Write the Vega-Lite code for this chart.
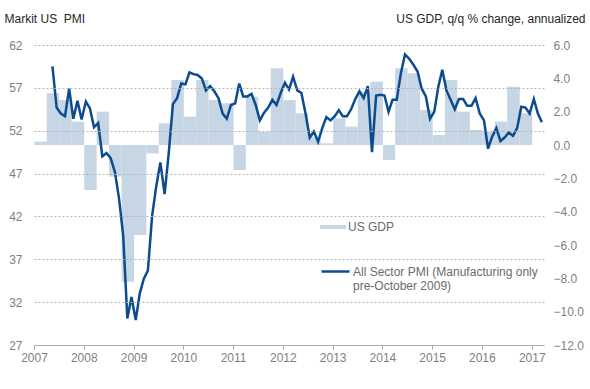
{
  "$schema": "https://vega.github.io/schema/vega-lite/v6.json",
  "width": 510,
  "height": 300,
  "autosize": {"type": "none"},
  "padding": {"left": 34, "top": 45, "right": 46, "bottom": 44},
  "background": "white",
  "config": {
    "view": {"stroke": null},
    "font": "Liberation Sans",
    "axis": {"labelFont": "Liberation Sans", "titleFont": "Liberation Sans"},
    "legend": {"padding": 0, "labelFont": "Liberation Sans"}
  },
  "datasets": {
    "gdp": [
      {"quarter": "2007-01-01", "gdp": 0.2}, {"quarter": "2007-04-01", "gdp": 3.1}, {"quarter": "2007-07-01", "gdp": 2.7}, {"quarter": "2007-10-01", "gdp": 1.4},
      {"quarter": "2008-01-01", "gdp": -2.7}, {"quarter": "2008-04-01", "gdp": 2.0}, {"quarter": "2008-07-01", "gdp": -1.9}, {"quarter": "2008-10-01", "gdp": -8.2},
      {"quarter": "2009-01-01", "gdp": -5.4}, {"quarter": "2009-04-01", "gdp": -0.5}, {"quarter": "2009-07-01", "gdp": 1.3}, {"quarter": "2009-10-01", "gdp": 3.9},
      {"quarter": "2010-01-01", "gdp": 1.7}, {"quarter": "2010-04-01", "gdp": 3.9}, {"quarter": "2010-07-01", "gdp": 2.7}, {"quarter": "2010-10-01", "gdp": 2.5},
      {"quarter": "2011-01-01", "gdp": -1.5}, {"quarter": "2011-04-01", "gdp": 2.9}, {"quarter": "2011-07-01", "gdp": 0.8}, {"quarter": "2011-10-01", "gdp": 4.6},
      {"quarter": "2012-01-01", "gdp": 2.7}, {"quarter": "2012-04-01", "gdp": 1.9}, {"quarter": "2012-07-01", "gdp": 0.5}, {"quarter": "2012-10-01", "gdp": 0.1},
      {"quarter": "2013-01-01", "gdp": 1.6}, {"quarter": "2013-04-01", "gdp": 1.1}, {"quarter": "2013-07-01", "gdp": 3.2}, {"quarter": "2013-10-01", "gdp": 3.8},
      {"quarter": "2014-01-01", "gdp": -0.9}, {"quarter": "2014-04-01", "gdp": 4.6}, {"quarter": "2014-07-01", "gdp": 4.3}, {"quarter": "2014-10-01", "gdp": 2.1},
      {"quarter": "2015-01-01", "gdp": 0.6}, {"quarter": "2015-04-01", "gdp": 3.9}, {"quarter": "2015-07-01", "gdp": 2.0}, {"quarter": "2015-10-01", "gdp": 0.9},
      {"quarter": "2016-01-01", "gdp": 0.8}, {"quarter": "2016-04-01", "gdp": 1.4}, {"quarter": "2016-07-01", "gdp": 3.5}, {"quarter": "2016-10-01", "gdp": 1.9}
    ],
    "pmi": [
      {"month": "2007-05-01", "pmi": 59.5}, {"month": "2007-06-01", "pmi": 54.7}, {"month": "2007-07-01", "pmi": 54.0}, {"month": "2007-08-01", "pmi": 53.7},
      {"month": "2007-09-01", "pmi": 56.9}, {"month": "2007-10-01", "pmi": 53.4}, {"month": "2007-11-01", "pmi": 55.5}, {"month": "2007-12-01", "pmi": 53.3},
      {"month": "2008-01-01", "pmi": 55.4}, {"month": "2008-02-01", "pmi": 54.6}, {"month": "2008-03-01", "pmi": 52.4}, {"month": "2008-04-01", "pmi": 52.9},
      {"month": "2008-05-01", "pmi": 49.0}, {"month": "2008-06-01", "pmi": 49.4}, {"month": "2008-07-01", "pmi": 48.8}, {"month": "2008-08-01", "pmi": 47.2},
      {"month": "2008-09-01", "pmi": 44.1}, {"month": "2008-10-01", "pmi": 39.8}, {"month": "2008-11-01", "pmi": 30.1}, {"month": "2008-12-01", "pmi": 32.6},
      {"month": "2009-01-01", "pmi": 29.9}, {"month": "2009-02-01", "pmi": 33.0}, {"month": "2009-03-01", "pmi": 34.7}, {"month": "2009-04-01", "pmi": 35.7},
      {"month": "2009-05-01", "pmi": 42.0}, {"month": "2009-06-01", "pmi": 45.5}, {"month": "2009-07-01", "pmi": 48.3}, {"month": "2009-08-01", "pmi": 44.6},
      {"month": "2009-09-01", "pmi": 49.4}, {"month": "2009-10-01", "pmi": 55.1}, {"month": "2009-11-01", "pmi": 55.8}, {"month": "2009-12-01", "pmi": 57.5},
      {"month": "2010-01-01", "pmi": 57.4}, {"month": "2010-02-01", "pmi": 58.8}, {"month": "2010-03-01", "pmi": 58.6}, {"month": "2010-04-01", "pmi": 58.5},
      {"month": "2010-05-01", "pmi": 58.1}, {"month": "2010-06-01", "pmi": 56.7}, {"month": "2010-07-01", "pmi": 57.2}, {"month": "2010-08-01", "pmi": 56.6},
      {"month": "2010-09-01", "pmi": 55.8}, {"month": "2010-10-01", "pmi": 54.0}, {"month": "2010-11-01", "pmi": 53.4}, {"month": "2010-12-01", "pmi": 55.0},
      {"month": "2011-01-01", "pmi": 55.2}, {"month": "2011-02-01", "pmi": 57.5}, {"month": "2011-03-01", "pmi": 56.0}, {"month": "2011-04-01", "pmi": 56.0},
      {"month": "2011-05-01", "pmi": 56.3}, {"month": "2011-06-01", "pmi": 55.0}, {"month": "2011-07-01", "pmi": 53.2}, {"month": "2011-08-01", "pmi": 54.1},
      {"month": "2011-09-01", "pmi": 54.7}, {"month": "2011-10-01", "pmi": 55.6}, {"month": "2011-11-01", "pmi": 55.0}, {"month": "2011-12-01", "pmi": 56.4},
      {"month": "2012-01-01", "pmi": 57.6}, {"month": "2012-02-01", "pmi": 56.8}, {"month": "2012-03-01", "pmi": 58.3}, {"month": "2012-04-01", "pmi": 56.7},
      {"month": "2012-05-01", "pmi": 56.4}, {"month": "2012-06-01", "pmi": 54.0}, {"month": "2012-07-01", "pmi": 51.2}, {"month": "2012-08-01", "pmi": 51.9},
      {"month": "2012-09-01", "pmi": 50.7}, {"month": "2012-10-01", "pmi": 52.3}, {"month": "2012-11-01", "pmi": 53.6}, {"month": "2012-12-01", "pmi": 53.2},
      {"month": "2013-01-01", "pmi": 53.7}, {"month": "2013-02-01", "pmi": 54.4}, {"month": "2013-03-01", "pmi": 53.7}, {"month": "2013-04-01", "pmi": 53.7},
      {"month": "2013-05-01", "pmi": 54.5}, {"month": "2013-06-01", "pmi": 55.7}, {"month": "2013-07-01", "pmi": 56.6}, {"month": "2013-08-01", "pmi": 55.8},
      {"month": "2013-09-01", "pmi": 57.2}, {"month": "2013-10-01", "pmi": 49.5}, {"month": "2013-11-01", "pmi": 56.1}, {"month": "2013-12-01", "pmi": 56.2},
      {"month": "2014-01-01", "pmi": 56.1}, {"month": "2014-02-01", "pmi": 54.2}, {"month": "2014-03-01", "pmi": 55.6}, {"month": "2014-04-01", "pmi": 55.6},
      {"month": "2014-05-01", "pmi": 58.7}, {"month": "2014-06-01", "pmi": 60.9}, {"month": "2014-07-01", "pmi": 60.4}, {"month": "2014-08-01", "pmi": 59.7},
      {"month": "2014-09-01", "pmi": 58.9}, {"month": "2014-10-01", "pmi": 56.9}, {"month": "2014-11-01", "pmi": 56.0}, {"month": "2014-12-01", "pmi": 53.4},
      {"month": "2015-01-01", "pmi": 54.2}, {"month": "2015-02-01", "pmi": 57.1}, {"month": "2015-03-01", "pmi": 59.1}, {"month": "2015-04-01", "pmi": 56.7},
      {"month": "2015-05-01", "pmi": 55.6}, {"month": "2015-06-01", "pmi": 54.5}, {"month": "2015-07-01", "pmi": 55.7}, {"month": "2015-08-01", "pmi": 55.7},
      {"month": "2015-09-01", "pmi": 54.9}, {"month": "2015-10-01", "pmi": 54.9}, {"month": "2015-11-01", "pmi": 55.8}, {"month": "2015-12-01", "pmi": 54.0},
      {"month": "2016-01-01", "pmi": 53.2}, {"month": "2016-02-01", "pmi": 49.9}, {"month": "2016-03-01", "pmi": 51.3}, {"month": "2016-04-01", "pmi": 52.3},
      {"month": "2016-05-01", "pmi": 50.8}, {"month": "2016-06-01", "pmi": 51.2}, {"month": "2016-07-01", "pmi": 51.8}, {"month": "2016-08-01", "pmi": 51.4},
      {"month": "2016-09-01", "pmi": 52.3}, {"month": "2016-10-01", "pmi": 54.8}, {"month": "2016-11-01", "pmi": 54.7}, {"month": "2016-12-01", "pmi": 54.0},
      {"month": "2017-01-01", "pmi": 55.7}, {"month": "2017-02-01", "pmi": 54.0}, {"month": "2017-03-01", "pmi": 53.0}
    ]
  },
  "layer": [
    {
      "data": {"name": "gdp"},
      "mark": {"type": "bar", "binSpacing": 0},
      "encoding": {
        "x": {
          "field": "quarter", "type": "temporal", "timeUnit": "utcyearquarter",
          "scale": {"type": "utc", "domain": [{"year": 2007, "month": 1, "date": 1, "utc": true}, {"year": 2017, "month": 4, "date": 1, "utc": true}]},
          "axis": {
            "title": null, "format": "%Y", "tickCount": {"interval": "year", "step": 1},
            "labelFlush": false, "labelOverlap": false, "grid": false,
            "domainColor": "#a6a6a6", "tickColor": "#a6a6a6", "tickSize": 4, "labelPadding": 3,
            "labelColor": "#7f7f7f", "labelFontSize": 12
          }
        },
        "y": {
          "field": "gdp", "type": "quantitative",
          "scale": {"domain": [-12, 6], "nice": false, "zero": false},
          "axis": {
            "orient": "right", "values": [-12, -10, -8, -6, -4, -2, 0, 2, 4, 6], "format": ".1f",
            "grid": false, "domain": false, "ticks": false, "labelPadding": 9,
            "labelColor": "#7f7f7f", "labelFontSize": 12,
            "title": "US GDP, q/q % change, annualized", "titleAngle": 0, "titleAlign": "right",
            "titleBaseline": "middle", "titleX": 41, "titleY": -27, "titleFontWeight": "normal",
            "titleFontSize": 12, "titleColor": "#262626"
          }
        },
        "fill": {
          "datum": "US GDP",
          "scale": {"range": ["#c6d6e5"]},
          "legend": {
            "orient": "none", "legendX": 286, "legendY": 169, "title": null,
            "symbolType": "M-1,-0.15H1V0.15H-1Z", "symbolSize": 676, "symbolStrokeWidth": 0,
            "labelFontSize": 12, "labelColor": "#6b6b6b", "labelOffset": 2
          }
        }
      }
    },
    {
      "data": {"name": "pmi"},
      "mark": {"type": "line", "strokeWidth": 2.5},
      "encoding": {
        "x": {"field": "month", "type": "temporal", "timeUnit": "utcyearmonth", "bandPosition": 0.5, "axis": {"title": null}},
        "y": {
          "field": "pmi", "type": "quantitative",
          "scale": {"domain": [27, 62], "nice": false, "zero": false},
          "axis": {
            "orient": "left", "values": [27, 32, 37, 42, 47, 52, 57, 62], "zindex": 1,
            "grid": true, "gridDash": [2, 2], "gridColor": "#b4b4b4", "gridWidth": 1,
            "domain": false, "ticks": false, "labelPadding": 12,
            "labelColor": "#7f7f7f", "labelFontSize": 12,
            "title": "Markit US\u00a0 PMI", "titleAngle": 0, "titleAlign": "left",
            "titleBaseline": "middle", "titleX": -30, "titleY": -27, "titleFontWeight": "normal",
            "titleFontSize": 12, "titleColor": "#262626"
          }
        },
        "stroke": {
          "datum": "All Sector PMI",
          "scale": {"range": ["#0d4b8f"]},
          "legend": {
            "orient": "none", "legendX": 286, "legendY": 211, "title": null,
            "symbolType": "stroke", "symbolSize": 784, "symbolStrokeWidth": 2.5,
            "labelFontSize": 12, "labelColor": "#6b6b6b", "labelOffset": 2, "labelLimit": 400,
            "labelExpr": "['All Sector PMI (Manufacturing only', 'pre-October 2009)']"
          }
        }
      }
    }
  ],
  "resolve": {"scale": {"y": "independent", "fill": "independent", "stroke": "independent"}}
}
